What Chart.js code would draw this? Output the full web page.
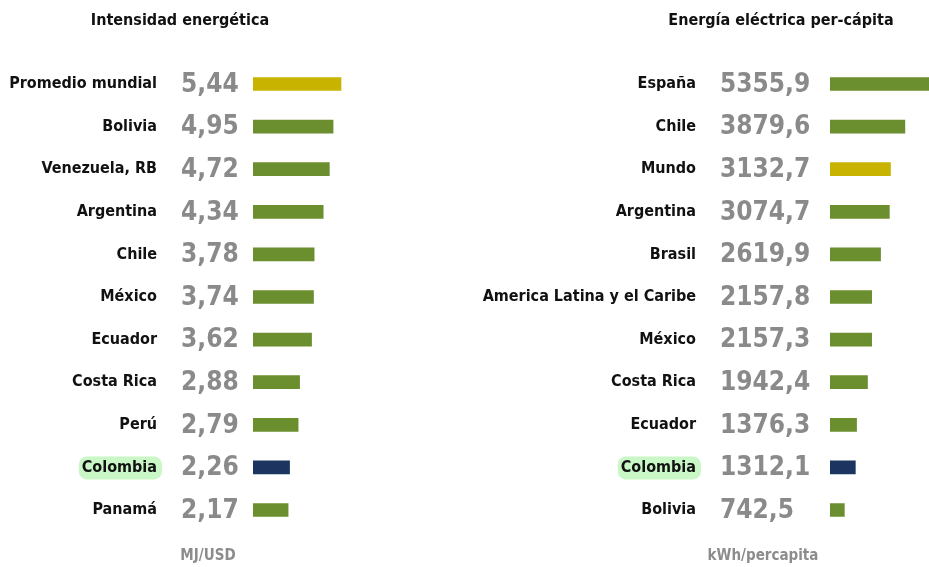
<!DOCTYPE html>
<html>
<head>
<meta charset="utf-8">
<script src="https://cdn.jsdelivr.net/npm/chart.js@4"></script>
<style>
  html, body { margin: 0; padding: 0; background: #fff; overflow: hidden; }
  body { width: 929px; height: 567px; position: relative; font-family: "DejaVu Sans Condensed", "DejaVu Sans", sans-serif; }
  canvas { position: absolute; top: 0; }
  .txt { position: absolute; font-weight: bold; white-space: nowrap; transform: translateX(-50%); }
  .title { top: 10px; font-size: 16px; color: #111; }
  .unit { top: 546px; font-size: 15px; color: #8c8c8c; }
</style>
</head>
<body>
<canvas id="chartLeft" width="560" height="567" style="left:0"></canvas>
<canvas id="chartRight" width="780" height="567" style="left:465px"></canvas>
<div class="txt title" style="left:180px">Intensidad energética</div>
<div class="txt title" style="left:781px">Energía eléctrica per-cápita</div>
<div class="txt unit" style="left:208px">MJ/USD</div>
<div class="txt unit" style="left:763px">kWh/percapita</div>
<script>
// --- data ---
const intensityLabels = ['Promedio mundial', 'Bolivia', 'Venezuela, RB', 'Argentina', 'Chile', 'México', 'Ecuador', 'Costa Rica', 'Perú', 'Colombia', 'Panamá'];
const intensityValues = [5.44, 4.95, 4.72, 4.34, 3.78, 3.74, 3.62, 2.88, 2.79, 2.26, 2.17];

const perCapitaLabels = ['España', 'Chile', 'Mundo', 'Argentina', 'Brasil', 'America Latina y el Caribe', 'México', 'Costa Rica', 'Ecuador', 'Colombia', 'Bolivia'];
const perCapitaValues = [5355.9, 3879.6, 3132.7, 3074.7, 2619.9, 2157.8, 2157.3, 1942.4, 1376.3, 1312.1, 742.5];

const GREEN = '#6b8e2e';
const YELLOW = '#c8b400';
const NAVY = '#1b3560';

function colorFor(label) {
  if (label === 'Colombia') return NAVY;
  if (label === 'Promedio mundial' || label === 'Mundo') return YELLOW;
  return GREEN;
}

// Colombia highlight behind the tick label + value numbers next to the bars
const valuesPlugin = {
  id: 'valuesPlugin',
  beforeDraw(chart, args, opts) {
    const ctx = chart.ctx;
    const y = chart.scales.y;
    const i = chart.data.labels.indexOf('Colombia');
    if (i < 0) return;
    ctx.save();
    ctx.font = 'bold 16px "DejaVu Sans Condensed"';
    const w = ctx.measureText('Colombia').width;
    const right = chart.chartArea.left - opts.labelPad + 2;
    const cy = y.getPixelForValue(i);
    ctx.fillStyle = '#c9f7c6';
    ctx.beginPath();
    ctx.roundRect(right - w - 5, cy - 11, w + 8, 23, 8);
    ctx.fill();
    ctx.restore();
  },
  afterDatasetsDraw(chart, args, opts) {
    const ctx = chart.ctx;
    const y = chart.scales.y;
    const ds = chart.data.datasets[0];
    ctx.save();
    ctx.font = 'bold 26px "DejaVu Sans Condensed"';
    ctx.fillStyle = '#8a8a8a';
    ctx.textAlign = 'left';
    ctx.textBaseline = 'middle';
    ds.data.forEach((v, i) => {
      const txt = v.toFixed(opts.decimals).replace('.', ',');
      ctx.fillText(txt, chart.chartArea.left - opts.valueOffset, y.getPixelForValue(i) + 1);
    });
    ctx.restore();
  }
};

function makeChart(id, labels, values, cfg) {
  return new Chart(document.getElementById(id), {
    type: 'bar',
    data: {
      labels: labels,
      datasets: [{
        data: values,
        backgroundColor: labels.map(colorFor),
        barThickness: 13,
        borderWidth: 0
      }]
    },
    options: {
      indexAxis: 'y',
      responsive: false,
      animation: false,
      layout: { padding: { top: 62.7, bottom: 35.7, left: 0, right: 0 } },
      plugins: {
        legend: { display: false },
        tooltip: { enabled: false },
        valuesPlugin: { decimals: cfg.decimals, valueOffset: cfg.valueOffset, labelPad: cfg.labelPad }
      },
      scales: {
        x: { display: false, min: 0, max: cfg.max },
        y: {
          afterFit(scale) {
            scale.width = cfg.axisWidth;
            // the big tick padding would otherwise also be added above and below the axis
            scale.paddingTop = 0;
            scale.paddingBottom = 0;
          },
          grid: { display: false, drawTicks: false },
          border: { display: false },
          ticks: {
            padding: cfg.labelPad,
            color: '#111',
            font: { family: '"DejaVu Sans Condensed"', size: 16, weight: 'bold' }
          }
        }
      }
    },
    plugins: [valuesPlugin]
  });
}

// x max chosen so that bar length per unit matches the picture
makeChart('chartLeft', intensityLabels, intensityValues, { max: 18.98, axisWidth: 253, labelPad: 96, valueOffset: 72, decimals: 2 });
makeChart('chartRight', perCapitaLabels, perCapitaValues, { max: 21500, axisWidth: 365, labelPad: 134, valueOffset: 110, decimals: 1 });
</script>
</body>
</html>
